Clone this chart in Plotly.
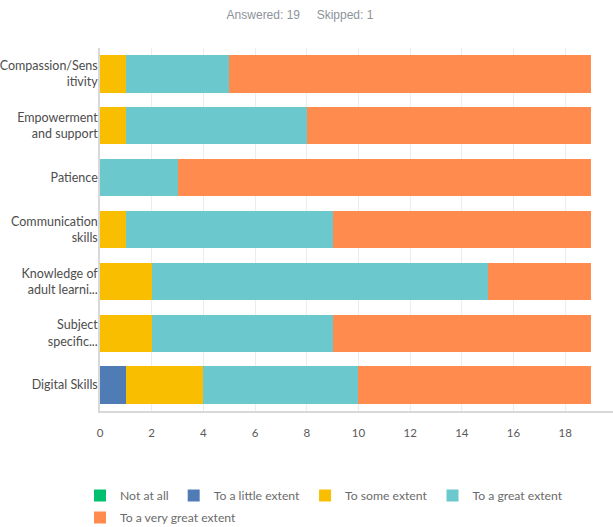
import plotly.graph_objects as go

categories = [
    "Compassion/Sens<br>itivity",
    "Empowerment<br>and support",
    "Patience",
    "Communication<br>skills",
    "Knowledge of<br>adult learni...",
    "Subject<br>specific...",
    "Digital Skills",
]
series_names = ["Not at all", "To a little extent", "To some extent",
                "To a great extent", "To a very great extent"]
not_at_all = [0, 0, 0, 0, 0, 0, 0]
little_extent = [0, 0, 0, 0, 0, 0, 1]
some_extent = [1, 1, 0, 1, 2, 2, 3]
great_extent = [4, 7, 3, 8, 13, 7, 6]
very_great_extent = [14, 11, 16, 10, 4, 10, 9]
colors = ["#00BF6F", "#507CB6", "#F9BE00", "#6BC8CD", "#FF8B4F"]
x_ticks = list(range(0, 21, 2))
legend_rows = ["legend", "legend", "legend", "legend", "legend2"]

values = [not_at_all, little_extent, some_extent, great_extent, very_great_extent]

fig = go.Figure()
for name, vals, col, lg in zip(series_names, values, colors, legend_rows):
    fig.add_trace(go.Bar(
        y=categories, x=vals, name=name, orientation="h",
        marker=dict(color=col, line=dict(width=0)),
        hoverinfo="x+name", legend=lg,
    ))

legend_common = dict(
    orientation="h", traceorder="normal",
    xref="container", yref="container",
    x=80 / 613, xanchor="left", yanchor="top",
    font=dict(family="Lato", size=12.2, color="#6b6b6b"),
    bgcolor="rgba(0,0,0,0)",
)

fig.update_layout(
    width=613, height=527,
    margin=dict(l=100, r=0, t=47.5, b=115.5),
    paper_bgcolor="white", plot_bgcolor="white",
    barmode="stack", bargap=0.28,
    font=dict(family="Lato", color="#555"),
    title=dict(
        text="Answered: 19\u00a0\u00a0\u00a0\u00a0\u00a0Skipped: 1",
        x=300 / 613, xanchor="center", xref="container",
        y=1 - 15 / 527, yanchor="middle", yref="container",
        font=dict(family="Liberation Sans", size=12, color="#8d939a"),
    ),
    legend=dict(legend_common, y=(527 - 481) / 527),
    legend2=dict(legend_common, y=(527 - 503) / 527),
    xaxis=dict(
        range=[0, 19.85], tickvals=x_ticks, showgrid=True, gridcolor="#ececec",
        showline=True, linecolor="#d8d8d8", linewidth=1.5, zeroline=False,
        ticks="", tickfont=dict(family="Lato", size=11.5, color="#5a5a5a"),
        automargin=False, ticklabelstandoff=10, fixedrange=True,
    ),
    yaxis=dict(
        categoryorder="array", categoryarray=categories, autorange="reversed",
        showline=True, linecolor="#d8d8d8", linewidth=1.5, showgrid=False,
        ticks="", tickfont=dict(family="Lato", size=12.5, color="#4d4d4d"),
        automargin=False, ticklabelstandoff=-2, fixedrange=True,
    ),
)

fig.write_html("out.html")
